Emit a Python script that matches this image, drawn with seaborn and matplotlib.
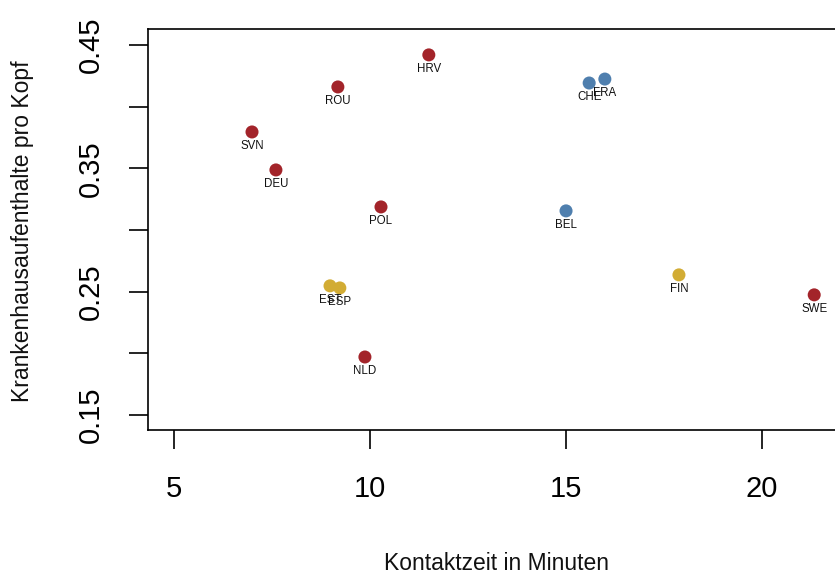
import matplotlib
matplotlib.use("Agg")
import matplotlib.pyplot as plt
import seaborn as sns
import pandas as pd

# Data
countries = ["HRV", "ROU", "SVN", "DEU", "POL", "NLD", "SWE",
             "CHE", "FRA", "BEL", "EST", "ESP", "FIN"]
kontaktzeit = [11.5, 9.18, 6.99, 7.60, 10.28, 9.87, 21.33,
               15.59, 15.99, 15.0, 8.98, 9.23, 17.88]
aufenthalte = [0.442, 0.416, 0.3795, 0.3487, 0.3187, 0.197, 0.2474,
               0.4192, 0.4224, 0.3155, 0.2547, 0.253, 0.2636]
gruppe = ["A", "A", "A", "A", "A", "A", "A",
          "B", "B", "B", "C", "C", "C"]
farben = {"A": "#A3242A", "B": "#4F7FAE", "C": "#D2AC34"}

x_ticks = [5, 10, 15, 20]
y_ticks = [0.15, 0.20, 0.25, 0.30, 0.35, 0.40, 0.45]
y_ticklabels = ["0.15", "", "0.25", "", "0.35", "", "0.45"]

df = pd.DataFrame({"land": countries, "x": kontaktzeit,
                   "y": aufenthalte, "g": gruppe})

sns.set_style("white")
plt.rcParams["font.family"] = ["Liberation Sans", "DejaVu Sans"]

fig = plt.figure(figsize=(8.35, 5.75), dpi=100)
W, H = 835, 575
left, right, top, bottom = 148, 844, 29, 430
ax = fig.add_axes([left / W, 1 - bottom / H, (right - left) / W, (bottom - top) / H])

sns.scatterplot(data=df, x="x", y="y", hue="g", palette=farben,
                s=88, linewidth=0, legend=False, ax=ax, zorder=3)

for _, r in df.iterrows():
    ax.annotate(r["land"], (r["x"], r["y"]), xytext=(0, -10.3),
                textcoords="offset points", ha="center", va="center",
                fontsize=8.3, color="#111111", zorder=4)

ax.set_xlim(4.337, 22.09)
ax.set_ylim(0.1378, 0.463)
ax.set_xticks(x_ticks)
ax.set_xticklabels([str(t) for t in x_ticks])
ax.set_yticks(y_ticks)
ax.set_yticklabels(y_ticklabels)

for s in ax.spines.values():
    s.set_visible(True)
    s.set_color("black")
    s.set_linewidth(1.2)

ax.tick_params(axis="both", which="major", bottom=True, left=True,
               direction="out", length=13.7, width=1.2,
               color="black", labelsize=21, labelcolor="black")
ax.tick_params(axis="x", pad=19)
ax.tick_params(axis="y", pad=17, labelrotation=90)
for lbl in ax.get_yticklabels():
    lbl.set_verticalalignment("center")

ax.set_xlabel("Kontaktzeit in Minuten", fontsize=16.5, color="#111111")
ax.set_ylabel("Krankenhausaufenthalte pro Kopf", fontsize=16.5, color="#111111")
ax.xaxis.set_label_coords((496 - left) / (right - left), (bottom - 563) / (bottom - top))
ax.xaxis.label.set_verticalalignment("center")
ax.yaxis.set_label_coords((23 - left) / (right - left), (bottom - 231) / (bottom - top))
ax.yaxis.label.set_verticalalignment("center")
ax.grid(False)

fig.savefig("out.png", dpi=100, facecolor="white")
